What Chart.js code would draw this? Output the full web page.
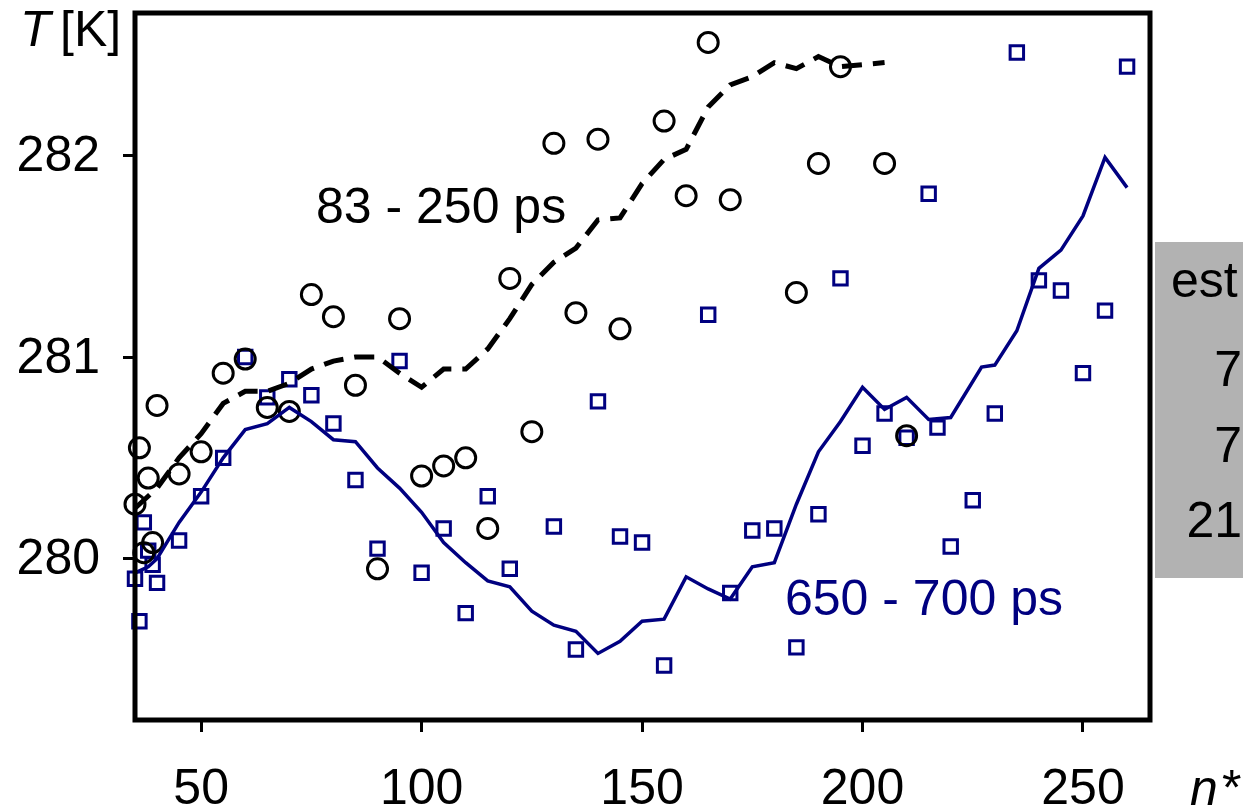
<!DOCTYPE html>
<html>
<head>
<meta charset="utf-8">
<script src="https://cdn.jsdelivr.net/npm/chart.js@4.4.1/dist/chart.umd.min.js"></script>
<style>
  html, body { margin: 0; padding: 0; background: #fff; }
</style>
</head>
<body>
<canvas id="myChart" width="1243" height="807"></canvas>
<script>
const FONT = '"Liberation Sans", Arial, sans-serif';
const NAVY = '#000080';

// 83 - 250 ps : open circles
const earlyN = [35, 36, 37, 38, 39, 40, 45, 50, 55, 60, 65, 70, 75, 80, 85, 90, 95, 100, 105, 110,
    115, 120, 125, 130, 135, 140, 145, 155, 160, 165, 170, 185, 190, 195, 205, 210];
const earlyT = [280.27, 280.55, 280.03, 280.40, 280.08, 280.76, 280.42, 280.53, 280.92, 280.99, 280.75, 280.73, 281.31, 281.20, 280.86, 279.95, 281.19, 280.41, 280.46, 280.50,
    280.15, 281.39, 280.63, 282.06, 281.22, 282.08, 281.14, 282.17, 281.80, 282.56, 281.78, 281.32, 281.96, 282.44, 281.96, 280.61];

// 83 - 250 ps : dashed running mean
const earlyLineN = [35, 40, 45, 50, 55, 60, 65, 70, 75, 80, 85, 90, 95, 100, 105, 110, 115, 120, 125, 130,
    135, 140, 145, 150, 155, 160, 165, 170, 175, 180, 185, 190, 195, 200, 205];
const earlyLineT = [280.25, 280.35, 280.50, 280.62, 280.77, 280.83, 280.83, 280.87, 280.94, 280.98, 281.00, 281.00, 280.92, 280.85, 280.94, 280.94, 281.04, 281.19, 281.36, 281.47,
    281.54, 281.68, 281.69, 281.86, 281.98, 282.03, 282.24, 282.35, 282.39, 282.46, 282.43, 282.49, 282.44, 282.45, 282.46];

// 650 - 700 ps : open squares
const lateN = [35, 36, 37, 38, 39, 40, 45, 50, 55, 60, 65, 70, 75, 80, 85, 90, 95, 100, 105, 110,
    115, 120, 130, 135, 140, 145, 150, 155, 165, 170, 175, 180, 185, 190, 195, 200, 205, 210, 215, 217,
    220, 225, 230, 235, 240, 245, 250, 255, 260];
const lateT = [279.90, 279.69, 280.18, 280.04, 279.97, 279.88, 280.09, 280.31, 280.50, 281.00, 280.80, 280.89, 280.81, 280.67, 280.39, 280.05, 280.98, 279.93, 280.15, 279.73,
    280.31, 279.95, 280.16, 279.55, 280.78, 280.11, 280.08, 279.47, 281.21, 279.83, 280.14, 280.15, 279.56, 280.22, 281.39, 280.56, 280.72, 280.60, 281.81, 280.65,
    280.06, 280.29, 280.72, 282.51, 281.38, 281.33, 280.92, 281.23, 282.44];

// 650 - 700 ps : solid running mean
const lateLineN = [35, 38, 40, 45, 50, 55, 60, 65, 70, 75, 80, 85, 90, 95, 100, 105, 110, 115, 120, 125,
    130, 135, 140, 145, 150, 155, 160, 165, 170, 175, 180, 185, 190, 195, 200, 205, 210, 215, 220, 227,
    230, 235, 240, 245, 250, 255, 260];
const lateLineT = [279.93, 279.96, 280.00, 280.18, 280.33, 280.50, 280.64, 280.67, 280.75, 280.68, 280.59, 280.58, 280.45, 280.35, 280.23, 280.08, 279.98, 279.89, 279.86, 279.74,
    279.67, 279.64, 279.53, 279.59, 279.69, 279.70, 279.91, 279.85, 279.80, 279.96, 279.98, 280.27, 280.53, 280.68, 280.85, 280.74, 280.80, 280.69, 280.70, 280.95,
    280.96, 281.13, 281.44, 281.53, 281.70, 281.99, 281.84];

const xTicks = [50, 100, 150, 200, 250];
const yTicks = [280, 281, 282];
const boxLabels = ['est', '7', '7', '21'];

function pts(xs, ys) {
    return xs.map((x, i) => ({ x: x, y: ys[i] }));
}

// frame, axis titles, curve labels and the grey box cut off at the right
const decor = {
    id: 'decor',
    afterDraw(chart) {
        const { ctx, chartArea: a } = chart;
        ctx.save();
        ctx.strokeStyle = '#000';
        ctx.lineWidth = 5;
        ctx.strokeRect(a.left, a.top, a.right - a.left, a.bottom - a.top);

        ctx.textBaseline = 'alphabetic';
        ctx.textAlign = 'left';
        ctx.fillStyle = '#000';
        ctx.font = 'italic 50px ' + FONT;
        ctx.fillText('T', 20, 46);
        ctx.fillText('n', 1190, 805);
        ctx.font = '50px ' + FONT;
        ctx.fillText('[K]', 60, 46);
        ctx.fillText('*', 1222, 805);
        ctx.fillText('83 - 250 ps', 316, 223);
        ctx.fillStyle = NAVY;
        ctx.fillText('650 - 700 ps', 785, 615);

        ctx.fillStyle = '#b2b2b2';
        ctx.fillRect(1155, 242, 88, 336);
        ctx.fillStyle = '#000';
        ctx.fillText(boxLabels[0], 1171, 297);
        ctx.textAlign = 'right';
        ctx.fillText(boxLabels[1], 1242, 386);
        ctx.fillText(boxLabels[2], 1242, 462);
        ctx.fillText(boxLabels[3], 1242, 537);
        ctx.restore();
    }
};

const ctx = document.getElementById('myChart').getContext('2d');
const chart = new Chart(ctx, {
    type: 'scatter',
    data: {
        datasets: [{
            label: '83 - 250 ps mean',
            data: pts(earlyLineN, earlyLineT),
            showLine: true,
            borderColor: '#000',
            borderWidth: 5,
            borderDash: [20, 11],
            pointRadius: 0,
            clip: false,
            order: 1
        }, {
            label: '650 - 700 ps mean',
            data: pts(lateLineN, lateLineT),
            showLine: true,
            borderColor: NAVY,
            borderWidth: 3.5,
            pointRadius: 0,
            clip: false,
            order: 2
        }, {
            label: '83 - 250 ps',
            data: pts(earlyN, earlyT),
            pointStyle: 'circle',
            pointRadius: 10,
            borderWidth: 3,
            borderColor: '#000',
            backgroundColor: 'rgba(0,0,0,0)',
            clip: false,
            order: 3
        }, {
            label: '650 - 700 ps',
            data: pts(lateN, lateT),
            pointStyle: 'rect',
            pointRadius: 9.5,
            borderWidth: 3,
            borderColor: NAVY,
            backgroundColor: 'rgba(0,0,0,0)',
            clip: false,
            order: 4
        }]
    },
    options: {
        responsive: false,
        animation: false,
        devicePixelRatio: 1,
        layout: { padding: { top: 10, right: 93, bottom: 0, left: 0 } },
        plugins: { legend: { display: false }, tooltip: { enabled: false } },
        scales: {
            x: {
                type: 'linear',
                min: 35,
                max: 265.2,
                afterFit: (s) => { s.height = 87; s.paddingLeft = 0; s.paddingRight = 0; },
                afterBuildTicks: (s) => { s.ticks = xTicks.map(v => ({ value: v })); },
                border: { display: false },
                grid: { drawOnChartArea: false, tickLength: 12, tickWidth: 3, tickColor: '#000' },
                ticks: { color: '#000', font: { family: FONT, size: 50 }, padding: 28, maxRotation: 0, autoSkip: false }
            },
            y: {
                type: 'linear',
                min: 279.2,
                max: 282.706,
                afterFit: (s) => { s.width = 135; s.paddingTop = 0; s.paddingBottom = 0; },
                afterBuildTicks: (s) => { s.ticks = yTicks.map(v => ({ value: v })); },
                border: { display: false },
                grid: { drawOnChartArea: false, tickLength: 12, tickWidth: 3, tickColor: '#000' },
                ticks: { color: '#000', font: { family: FONT, size: 50 }, padding: 23, labelOffset: 2, autoSkip: false }
            }
        }
    },
    plugins: [decor]
});
</script>
</body>
</html>
